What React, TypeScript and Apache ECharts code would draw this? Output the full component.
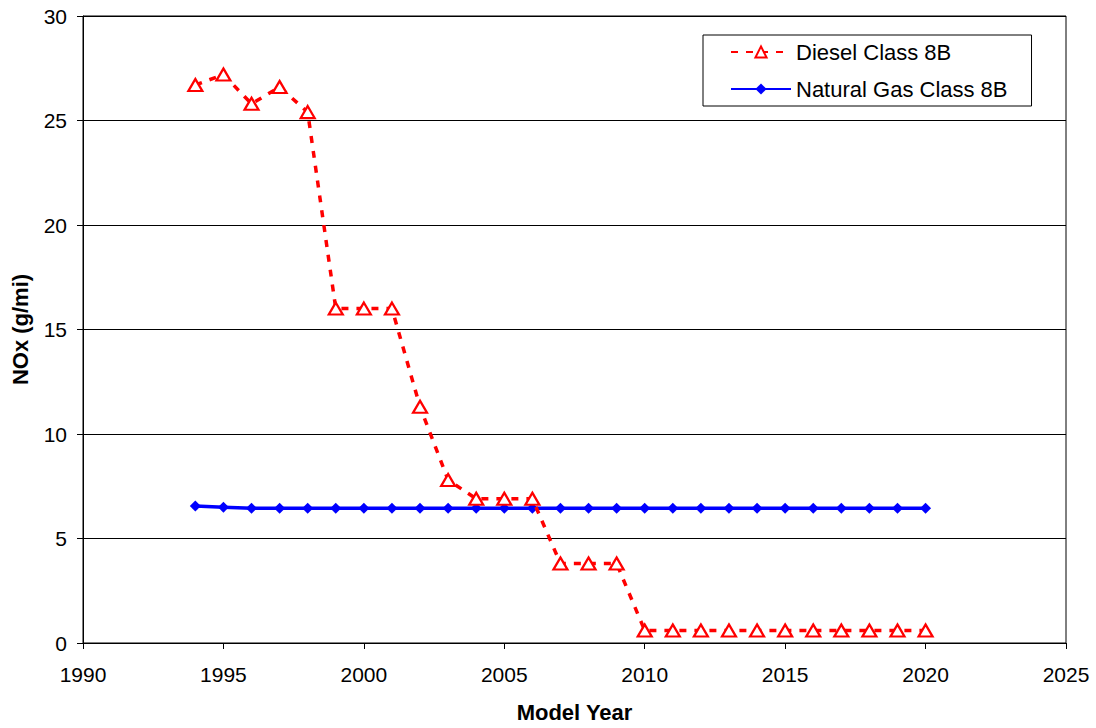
import React, { useEffect, useRef } from "react";
import * as echarts from "echarts";

const years = [1994, 1995, 1996, 1997, 1998, 1999, 2000, 2001, 2002, 2003, 2004, 2005, 2006, 2007, 2008, 2009, 2010, 2011, 2012, 2013, 2014, 2015, 2016, 2017, 2018, 2019, 2020];
const diesel = [26.7, 27.2, 25.8, 26.6, 25.4, 16.0, 16.0, 16.0, 11.3, 7.8, 6.9, 6.9, 6.9, 3.8, 3.8, 3.8, 0.6, 0.6, 0.6, 0.6, 0.6, 0.6, 0.6, 0.6, 0.6, 0.6, 0.6];
const naturalGas = [6.55, 6.5, 6.45, 6.45, 6.45, 6.45, 6.45, 6.45, 6.45, 6.45, 6.45, 6.45, 6.45, 6.45, 6.45, 6.45, 6.45, 6.45, 6.45, 6.45, 6.45, 6.45, 6.45, 6.45, 6.45, 6.45, 6.45];
const seriesNames = ["Diesel Class 8B", "Natural Gas Class 8B"];

export default function App() {
  const ref = useRef<HTMLDivElement>(null);
  useEffect(() => {
    if (!ref.current) return;
    const chart = echarts.init(ref.current, undefined, { renderer: "svg" });
    const font = "Liberation Sans, Arial, sans-serif";
    chart.setOption({
      animation: false,
      backgroundColor: "#fff",
      textStyle: { fontFamily: font },
      grid: {
        left: 83, right: 30, top: 16, bottom: 84, containLabel: false,
        show: true, borderColor: "#000", borderWidth: 1, backgroundColor: "transparent",
      },
      legend: {
        left: 703,
        top: 35,
        orient: "vertical",
        borderColor: "#000",
        borderWidth: 1,
        padding: [6, 24, 6, 27],
        itemWidth: 60,
        itemHeight: 14,
        itemGap: 15,
        textStyle: { fontSize: 22, color: "#000", fontFamily: font },
        data: seriesNames,
      },
      xAxis: {
        type: "value",
        min: 1990,
        max: 2025,
        interval: 5,
        name: "Model Year",
        nameLocation: "middle",
        nameGap: 58,
        nameTextStyle: { fontSize: 22, fontWeight: "bold", color: "#000", fontFamily: font },
        axisLine: { show: true, lineStyle: { color: "#000", width: 1 } },
        axisTick: { show: true, length: 6, lineStyle: { color: "#000" } },
        axisLabel: { fontSize: 21, color: "#000", margin: 21, fontFamily: font, formatter: (v: number) => String(v) },
        splitLine: { show: false },
      },
      yAxis: {
        type: "value",
        min: 0,
        max: 30,
        interval: 5,
        name: "NOx (g/mi)",
        nameLocation: "middle",
        nameGap: 52,
        nameRotate: 90,
        nameTextStyle: { fontSize: 22, fontWeight: "bold", color: "#000", fontFamily: font },
        axisLine: { show: true, lineStyle: { color: "#000", width: 1 } },
        axisTick: { show: true, length: 6, lineStyle: { color: "#000" } },
        axisLabel: { fontSize: 21, color: "#000", margin: 16, fontFamily: font },
        splitLine: { show: true, lineStyle: { color: "#000", width: 1 } },
      },
      series: [
        {
          name: seriesNames[0],
          type: "line",
          data: years.map((y, i) => [y, diesel[i]]),
          lineStyle: { color: "#ff0000", width: 3.5, type: [7, 8] },
          itemStyle: { color: "#fff", borderColor: "#ff0000", borderWidth: 2.2 },
          symbol: "triangle",
          symbolSize: [14, 12],
          z: 3,
        },
        {
          name: seriesNames[1],
          type: "line",
          data: years.map((y, i) => [y, naturalGas[i]]),
          lineStyle: { color: "#0000ff", width: 3.5 },
          itemStyle: { color: "#0000ff" },
          symbol: "diamond",
          symbolSize: 11,
          z: 2,
        },
      ],
    });
    return () => chart.dispose();
  }, []);
  return <div ref={ref} style={{ width: 1096, height: 728, position: "absolute", left: 0, top: 0 }} />;
}
